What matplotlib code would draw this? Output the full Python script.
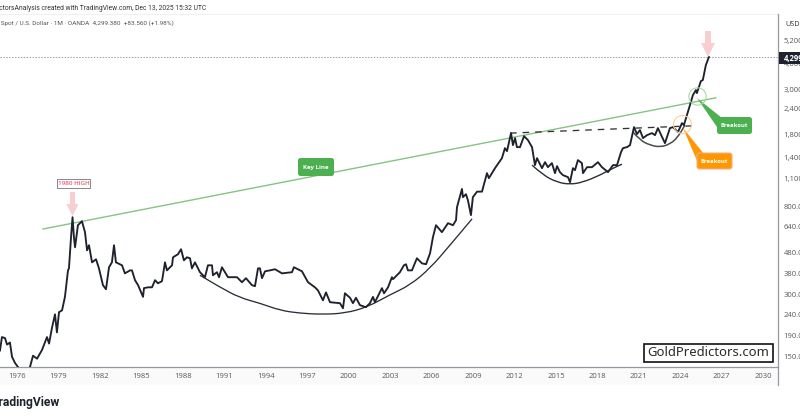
import matplotlib
matplotlib.use("Agg")
import matplotlib.pyplot as plt
from matplotlib.patches import FancyBboxPatch, Polygon, Rectangle, PathPatch
from matplotlib.path import Path

plt.rcParams['font.family'] = ['Open Sans', 'DejaVu Sans']

# ---- data ----
years = [
 1974.77,1974.91,1975.13,1975.28,1975.49,1975.64,1975.86,1976.07,1976.51,1976.94,1977.16,1977.45,1977.81,1978.17,1978.32,
 1978.53,1978.75,1978.89,1979.04,1979.26,1979.47,1979.69,1979.76,1979.91,1980.02,1980.12,1980.20,1980.41,1980.70,1980.92,
 1981.07,1981.21,1981.43,1981.72,1981.93,1982.22,1982.44,1982.66,1982.87,1983.02,1983.16,1983.60,1983.81,1984.18,1984.32,
 1984.54,1984.76,1985.12,1985.19,1985.48,1985.77,1985.99,1986.20,1986.49,1986.71,1986.85,1987.22,1987.29,1987.65,1987.87,
 1988.08,1988.30,1988.52,1988.66,1988.88,1989.24,1989.60,1989.82,1990.11,1990.18,1990.47,1990.62,1990.83,1991.05,1991.27,
 1991.92,1992.28,1992.57,1993.00,1993.22,1993.44,1993.58,1993.73,1993.95,1994.31,1994.67,1995.18,1995.90,1996.04,1996.62,
 1997.06,1997.56,1997.78,1998.14,1998.36,1998.65,1999.37,1999.59,1999.73,2000.10,2000.31,2000.53,2000.82,2001.25,2001.54,
 2001.76,2001.90,2002.41,2002.56,2002.85,2002.99,2003.13,2003.21,2003.71,2004.00,2004.15,2004.29,2004.58,2004.94,2005.31,
 2005.60,2005.89,2006.10,2006.32,2006.75,2007.19,2007.55,2007.77,2007.84,2008.20,2008.27,2008.49,2008.63,2008.85,2008.99,
 2009.29,2009.65,2010.01,2010.15,2010.59,2011.09,2011.31,2011.46,2011.75,2011.89,2012.04,2012.18,2012.40,2012.69,2012.98,
 2013.27,2013.48,2013.63,2013.99,2014.21,2014.42,2014.71,2014.93,2015.08,2015.29,2015.51,2015.87,2016.02,2016.23,2016.38,
 2016.59,2016.88,2016.96,2017.25,2017.61,2018.04,2018.33,2018.77,2019.13,2019.42,2019.71,2019.85,2020.14,2020.36,2020.65,
 2020.86,2021.08,2021.30,2021.59,2021.95,2022.17,2022.38,2022.89,2023.25,2023.47,2023.83,2024.12,2024.26,2024.48,2024.70,
 2024.91,2025.13,2025.20,2025.49,2025.63,2025.85,2026.07]
prices = [
 160,186,184,171,175,149,139,133,122,133,151,146,161,186,173,
 206,240,196,246,251,292,393,402,570,713,570,509,652,682,603,
 492,521,430,445,402,333,318,407,430,521,430,416,380,393,393,
 352,333,292,322,325,325,352,340,348,430,393,416,455,471,498,
 440,455,450,402,430,385,364,416,416,372,385,364,407,385,364,
 364,344,360,333,329,402,402,360,389,393,398,380,385,407,389,
 344,325,314,281,307,275,272,257,304,289,272,289,266,260,272,
 292,275,322,304,325,344,364,356,385,416,421,393,393,450,425,
 421,476,570,652,603,667,652,690,798,979,893,923,863,730,893,
 950,950,1169,1105,1236,1382,1547,1496,1831,1600,1731,1565,1565,1770,1692,
 1565,1279,1383,1236,1322,1250,1308,1169,1265,1182,1143,1118,1056,1236,1209,
 1353,1308,1169,1250,1250,1322,1250,1182,1279,1279,1479,1547,1565,1600,1959,
 1810,1894,1731,1790,1831,1790,1937,1636,1937,1959,1851,2048,2003,2241,2507,
 2803,2967,2868,3282,3319,3927,4299]

arc1_years = [1989.24,1990.69,1992.14,1993.58,1995.03,1996.48,1998.07,1999.73,2001.33,2002.99,2004.44,2005.89,2007.33,2008.93]
arc1_prices = [372,325,289,272,251,243,240,243,260,299,333,402,521,700]
arc2_years = [2013.27,2014.07,2015.08,2016.02,2016.96,2018.19,2019.13,2019.78]
arc2_prices = [1279,1143,1056,1030,1056,1143,1236,1292]
arc3_years = [2020.58,2021.08,2021.81,2022.53,2023.25,2023.83,2024.33]
arc3_prices = [1851,1692,1600,1565,1618,1750,2003]

keyline_years = [1977.88, 2026.57]
keyline_prices = [625, 2720]
dash_years = [2011.68, 2025.13]
dash_prices = [1831, 1990]
last_price = 4299.38

x_ticks = [1976,1979,1982,1985,1988,1991,1994,1997,2000,2003,2006,2009,2012,2015,2018,2021,2024,2027,2030]
y_ticks = [5200,4000,3000,2400,1800,1400,1100,800,640,480,380,300,240,190,150]
y_labels = ['5,200.000','4,000.000','3,000.000','2,400.000','1,800.000','1,400.000','1,100.000',
            '800.000','640.000','480.000','380.000','300.000','240.000','190.000','150.000']

LINE = '#1e222d'; GREEN = '#4caf50'; ORANGE = '#ff9800'; PINK = '#f8ced1'; GREY = '#55585f'

W, H = 800, 419
fig = plt.figure(figsize=(W/100, H/100), dpi=100, facecolor='white')

bg = fig.add_axes([0, 0, 1, 1], zorder=0)
bg.set_xlim(0, W); bg.set_ylim(H, 0); bg.axis('off')
bg.add_patch(Rectangle((0, 368), 778, 17, fc='#fafafa', ec='none'))

ax = fig.add_axes([0, (H-367)/H, 778/W, (367-14)/H], zorder=1, facecolor='none')
ax.set_yscale('log')
ax.set_xlim(1974.77, 2031.07)
ax.set_ylim(133, 6962)

def smooth_arc(xs, ys, color, lw):
    # anchors act as quadratic control points, joined at their midpoints
    verts = [(xs[0], ys[0])]; codes = [Path.MOVETO]
    for i in range(1, len(xs) - 1):
        verts += [(xs[i], ys[i]), ((xs[i] + xs[i+1]) / 2, (ys[i] * ys[i+1]) ** 0.5)]
        codes += [Path.CURVE3, Path.CURVE3]
    verts.append((xs[-1], ys[-1])); codes.append(Path.LINETO)
    ax.add_patch(PathPatch(Path(verts, codes), fc='none', ec=color, lw=lw, zorder=3))

ax.plot(keyline_years, keyline_prices, color='#85c482', lw=1.0, zorder=2)
ax.plot(dash_years, dash_prices, color='#333333', lw=0.95, dashes=(5, 4.5), zorder=2)
smooth_arc(arc1_years, arc1_prices, '#2a2e39', 0.95)
smooth_arc(arc2_years, arc2_prices, '#2a2e39', 1.0)
smooth_arc(arc3_years, arc3_prices, '#4a4a50', 1.1)
ax.plot(years, prices, color=LINE, lw=1.35, solid_joinstyle='round', zorder=4)
ax.axhline(last_price, color='#9a9da6', lw=0.7, ls=(0, (1.5, 1.5)), zorder=1)

for s in ['left', 'top', 'right']:
    ax.spines[s].set_visible(False)
ax.spines['bottom'].set_color('#9598a1'); ax.spines['bottom'].set_linewidth(0.9)
ax.set_xticks(x_ticks, [str(t) for t in x_ticks])
ax.yaxis.tick_right()
ax.set_yticks(y_ticks, y_labels)
ax.minorticks_off()
ax.tick_params(axis='both', which='both', length=0, labelcolor=GREY, labelsize=5.5)
ax.tick_params(axis='x', pad=4.5)
ax.tick_params(axis='y', pad=4.0)

# overlay in image pixels for the drawn annotations
ann = fig.add_axes([0, 0, 1, 1], facecolor='none', zorder=2)
ann.set_xlim(0, W); ann.set_ylim(H, 0); ann.axis('off')

ann.plot([0, 778], [14, 14], color='#f0f0f0', lw=0.8)
ann.plot([778, 778], [14, 385], color='#9598a1', lw=0.9)
ann.add_patch(Rectangle((779, 52), 21, 12, fc=LINE, ec='none', zorder=5))
ann.text(784, 58, '4,299.380', color='white', fontsize=5.5, va='center', ha='left', zorder=6, fontweight='bold')
ann.text(785, 24, 'USD', color='#333333', fontsize=5.2, va='center', ha='left')

ann.text(206, 8.5, 'GoldPredictorsAnalysis created with TradingView.com, Dec 13, 2025 15:32 UTC',
         color='#333333', fontsize=4.9, va='center', ha='right', family='Roboto')
ann.text(174, 23, 'Gold Spot / U.S. Dollar · 1M · OANDA  4,299.380  +83.560 (+1.98%)',
         color='#555555', fontsize=4.6, va='center', ha='right', family='Roboto')
ann.text(60, 402, 'TradingView', color='#1e222d', fontsize=8.7, fontweight='bold',
         va='center', ha='right', family='Roboto')

def down_arrow(x, top, tip, head_start, shaft, head):
    ann.add_patch(Polygon([(x-shaft/2, top), (x+shaft/2, top), (x+shaft/2, head_start), (x+head/2, head_start),
                           (x, tip), (x-head/2, head_start), (x-shaft/2, head_start)],
                          fc=PINK, ec='none', zorder=3))
down_arrow(72.5, 192, 216, 204, 5, 12)
down_arrow(708, 31, 57, 43, 6, 14)

ann.add_patch(Rectangle((57, 179), 33, 9, fc='white', ec='#888888', lw=0.7, zorder=5))
ann.text(73.5, 183.7, '1980 HIGH', color='#e0223f', fontsize=4.5, ha='center', va='center', zorder=6)

def pill(x0, y0, x1, y1, fc, txt, ec='none', fs=4.2):
    ann.add_patch(FancyBboxPatch((x0+2.5, y0+2.5), x1-x0-5, y1-y0-5, boxstyle='round,pad=2.5',
                                 fc=fc, ec=ec, lw=0.8, zorder=5))
    ann.text((x0+x1)/2, (y0+y1)/2, txt, color='white', fontsize=fs, ha='center', va='center',
             fontweight='bold', zorder=6)

pill(298, 158, 334, 176, GREEN, 'Key Line', fs=4.4)
ann.add_patch(Polygon([(697, 98), (722, 118), (717, 127)], fc=GREEN, ec='none', zorder=5))
pill(717, 117, 752, 134, GREEN, 'Breakout')
ann.add_patch(Polygon([(683, 128), (704, 154), (698, 163)], fc=ORANGE, ec='none', zorder=5))
pill(697, 153, 732, 169, ORANGE, 'Breakout', ec='#f0b088')

ann.plot([697], [96], 'o', ms=12.5, mfc='none', mec='#a8d8a8', mew=0.8, zorder=5)
ann.plot([682], [124], 'o', ms=13, mfc='none', mec='#fbd09a', mew=0.8, zorder=5)

ann.add_patch(Rectangle((644, 343.5), 129, 18.5, fc='white', ec='#111111', lw=1.2, zorder=5))
ann.text(708, 352.3, 'GoldPredictors.com', color='#2a2a2a', fontsize=9.4, ha='center', va='center',
         family='Noto Sans', fontweight='medium', zorder=6)

fig.savefig('out.png', dpi=100)
